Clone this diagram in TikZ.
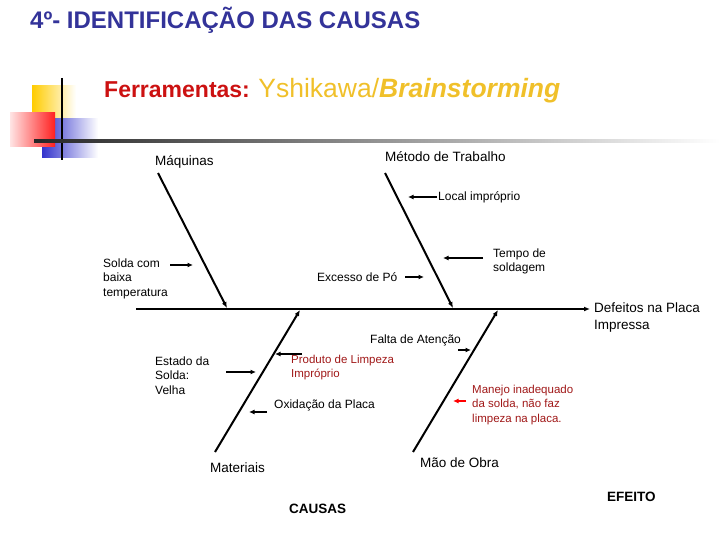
\documentclass[tikz,border=0pt]{standalone}
\usepackage{fontspec}
\setmainfont{Liberation Sans}
\usetikzlibrary{arrows.meta}
\definecolor{titleblue}{HTML}{333399}
\definecolor{toolred}{HTML}{CC1111}
\definecolor{gold}{HTML}{F0C02A}
\definecolor{darkred}{HTML}{A01818}
\definecolor{sqyellow}{HTML}{FFCC00}
\definecolor{sqblue}{HTML}{3333CC}
\definecolor{sqred}{HTML}{FF2020}
\tikzset{
  bone/.style={line width=2pt,-{Latex[length=6pt,width=5pt]}},
  cause/.style={line width=1.6pt,-{Latex[length=5.5pt,width=5pt]}},
  lbl/.style={anchor=west,inner sep=0pt,align=left,font=\fontsize{12}{14.5}\selectfont},
  biglbl/.style={anchor=west,inner sep=0pt,align=left,font=\fontsize{13.5}{17}\selectfont},
  redlbl/.style={lbl,text=darkred,font=\fontsize{11.5}{14.5}\selectfont}
}
\begin{document}
\begin{tikzpicture}[x=1pt,y=-1pt]
\useasboundingbox (0,0) rectangle (720,540);
% title and bullet squares
\node[anchor=west,inner sep=0pt,text=titleblue,font=\fontsize{24}{28}\selectfont\bfseries] (title) at (30,20) {4º- IDENTIFICAÇÃO DAS CAUSAS};
\shade[left color=sqyellow,right color=white] (32,86) rectangle (76,120);
\shade[left color=sqblue,right color=white] (42,119) rectangle (98,158);
\shade[left color=sqred!12,right color=sqred] (10,113) rectangle (55,147);
\draw[line width=1.8pt] (62,78) -- (62,160);
\shade[left color=black!85,right color=white] (34,139.8) rectangle (720,142.4);
\node[anchor=west,inner sep=0pt] (tools) at (104,91) {\fontsize{23}{28}\selectfont\bfseries\color{toolred}Ferramentas: \color{gold}\fontsize{26.5}{30}\selectfont\mdseries Yshikawa/\bfseries\itshape Brainstorming};

% spine
\coordinate (tail) at (136,309);
\coordinate (head) at (590,309);
\draw[bone] (tail) -- (head);
\node[biglbl] (efeito) at (594,317.5) {Defeitos na Placa\\Impressa};

% main bones
\coordinate (maq0) at (158,173);
\coordinate (maq1) at (227,308);
\coordinate (met0) at (385,173);
\coordinate (met1) at (453,308);
\coordinate (mat0) at (215,452);
\coordinate (mat1) at (300,310);
\coordinate (mao0) at (413,452);
\coordinate (mao1) at (498,310);
\draw[bone] (maq0) -- (maq1);
\draw[bone] (met0) -- (met1);
\draw[bone] (mat0) -- (mat1);
\draw[bone] (mao0) -- (mao1);
\node[biglbl] (maquinas) at (155,162) {Máquinas};
\node[biglbl] (metodo) at (385,157) {Método de Trabalho};
\node[biglbl] (materiais) at (210,468) {Materiais};
\node[biglbl] (maodeobra) at (420,463) {Mão de Obra};

% causes
\node[lbl] (local) at (438,197) {Local impróprio};
\node[lbl] (tempo) at (493,261.5) {Tempo de\\soldagem};
\node[lbl] (excesso) at (317,277) {Excesso de Pó};
\node[lbl] (solda) at (103,278.5) {Solda com\\baixa\\temperatura};
\node[lbl] (falta) at (370,340) {Falta de Atenção};
\node[redlbl] (produto) at (291,367.5) {Produto de Limpeza\\Impróprio};
\node[lbl] (estado) at (155,375.5) {Estado da\\Solda:\\Velha};
\node[lbl] (oxid) at (274,405) {Oxidação da Placa};
\node[redlbl] (manejo) at (472,405) {Manejo inadequado\\da solda, não faz\\limpeza na placa.};

\coordinate (local0) at (437,197);   \coordinate (local1) at (408,197);
\coordinate (tempo0) at (483,258);   \coordinate (tempo1) at (443,258);
\coordinate (exc0) at (405,277);     \coordinate (exc1) at (424,277);
\coordinate (solda0) at (170,265);   \coordinate (solda1) at (193,265);
\coordinate (prod0) at (302,354);    \coordinate (prod1) at (275,354);
\coordinate (est0) at (226,372);     \coordinate (est1) at (256,372);
\coordinate (oxid0) at (267,412);    \coordinate (oxid1) at (249,412);
\coordinate (falta0) at (458,350);   \coordinate (falta1) at (471,350);
\coordinate (manejo0) at (466,401);  \coordinate (manejo1) at (453,401);
\draw[cause] (local0) -- (local1);
\draw[cause] (tempo0) -- (tempo1);
\draw[cause] (exc0) -- (exc1);
\draw[cause] (solda0) -- (solda1);
\draw[cause] (prod0) -- (prod1);
\draw[cause] (est0) -- (est1);
\draw[cause] (oxid0) -- (oxid1);
\draw[cause] (falta0) -- (falta1);
\draw[cause,red] (manejo0) -- (manejo1);

\node[anchor=west,inner sep=0pt,font=\fontsize{13.5}{16}\selectfont\bfseries] (causas) at (289,509) {CAUSAS};
\node[anchor=west,inner sep=0pt,font=\fontsize{13.5}{16}\selectfont\bfseries] (efeitolbl) at (607,497) {EFEITO};
\end{tikzpicture}
\end{document}
